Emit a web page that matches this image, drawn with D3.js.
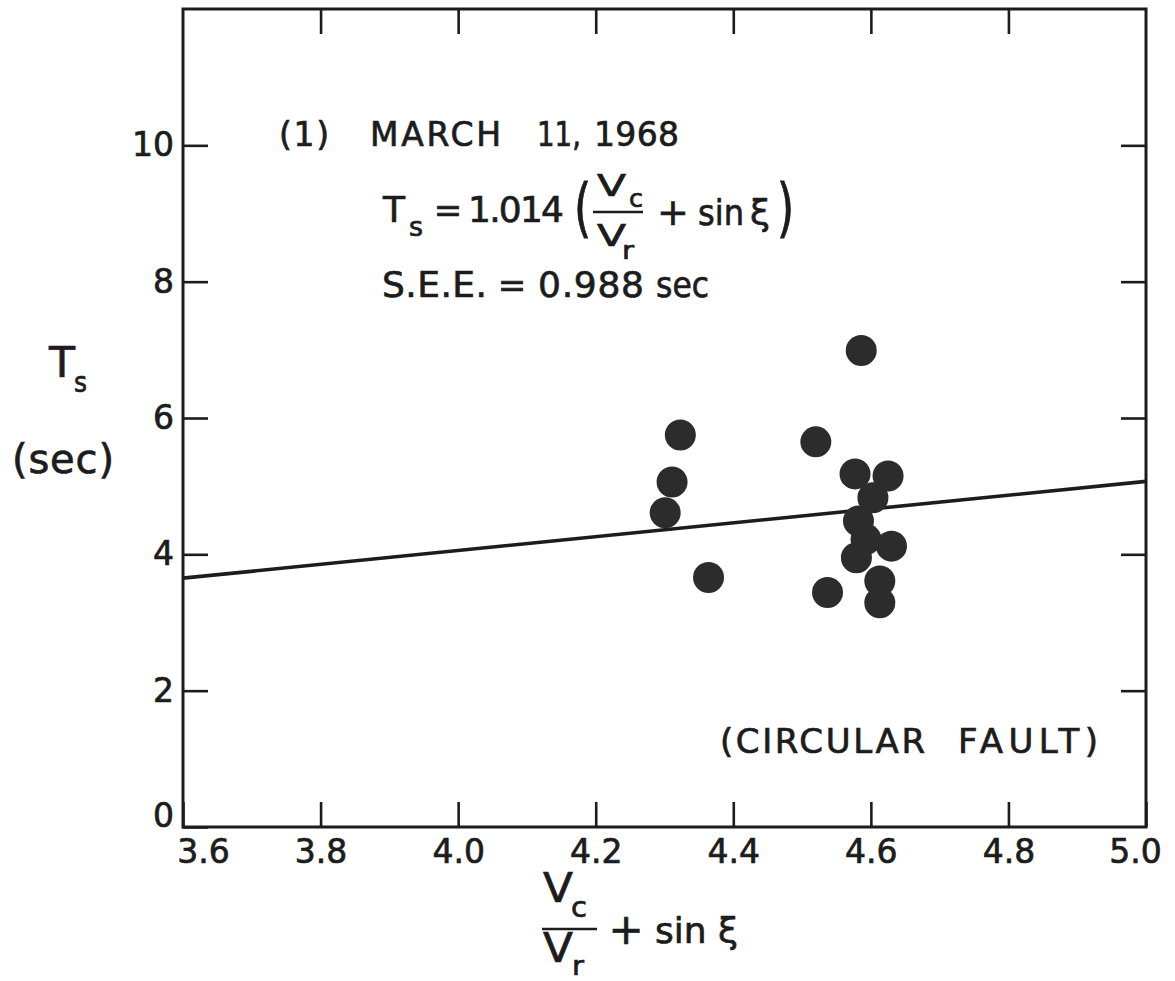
<!DOCTYPE html>
<html>
<head>
<meta charset="utf-8">
<script src="https://cdn.jsdelivr.net/npm/d3@7"></script>
<style>
  html, body { margin: 0; padding: 0; background: #fff; }
  svg { display: block; }
  text { font-family: "DejaVu Sans", "Noto Sans", sans-serif; fill: #1c1c1c;
         stroke: #1c1c1c; stroke-width: 0.7px; }
</style>
</head>
<body>
<svg id="chart" width="1175" height="981"></svg>
<script>
// Observed values: abscissa Vc/Vr + sin(xi), ordinate Ts (sec)
const xValues = [4.586, 4.323, 4.520, 4.311, 4.577, 4.625, 4.603, 4.301,
                 4.582, 4.593, 4.630, 4.579, 4.364, 4.537, 4.613, 4.613];
const tsValues = [6.99, 5.75, 5.65, 5.06, 5.18, 5.15, 4.83, 4.61,
                  4.49, 4.22, 4.12, 3.95, 3.66, 3.44, 3.61, 3.29];

// Fitted relation Ts = 1.014 (Vc/Vr + sin xi)
const fitCoefficient = 1.014;
const fitRange = [3.6, 5.0];

// Axis ticks
const xTicks = [3.6, 3.8, 4.0, 4.2, 4.4, 4.6, 4.8, 5.0];
const xTickLabels = ["3.6", "3.8", "4.0", "4.2", "4.4", "4.6", "4.8", "5.0"];
const yTicks = [0, 2, 4, 6, 8, 10];
const yTickLabels = ["0", "2", "4", "6", "8", "10"];

const svg = d3.select("#chart");
const ink = "#1c1c1c";

const x = d3.scaleLinear().domain([3.6, 5.0]).range([183, 1146]);
const y = d3.scaleLinear().domain([0, 12]).range([827, 9]);

const tickLen = 25;

// Frame
svg.append("rect")
  .attr("x", x(3.6)).attr("y", y(12))
  .attr("width", x(5.0) - x(3.6)).attr("height", y(0) - y(12))
  .attr("fill", "none").attr("stroke", ink).attr("stroke-width", 3);

function styleAxis(g) {
  g.select(".domain").remove();
  g.selectAll(".tick line").attr("stroke", ink).attr("stroke-width", 2.6);
  g.selectAll(".tick text").attr("fill", ink).attr("font-size", 33)
    .attr("font-family", '"DejaVu Sans", sans-serif');
}

// Bottom axis with labels, ticks pointing inward
const xAxisG = svg.append("g")
  .attr("transform", `translate(0,${y(0)})`)
  .call(d3.axisBottom(x).tickValues(xTicks)
    .tickFormat((d, i) => xTickLabels[i])
    .tickSizeInner(-tickLen).tickSizeOuter(0).tickPadding(13))
  .call(styleAxis);
// end labels sit inside the frame corners
xAxisG.selectAll(".tick text")
  .attr("dx", d => d === 3.6 ? 20 : d === 5.0 ? -11 : 0);

// Top axis, ticks only
svg.append("g")
  .attr("transform", `translate(0,${y(12)})`)
  .call(d3.axisTop(x).tickValues(xTicks.slice(1, -1))
    .tickFormat("").tickSizeInner(-tickLen).tickSizeOuter(0))
  .call(styleAxis);

// Left axis with labels
const yAxisG = svg.append("g")
  .attr("transform", `translate(${x(3.6)},0)`)
  .call(d3.axisLeft(y).tickValues(yTicks)
    .tickFormat((d, i) => yTickLabels[i])
    .tickSizeInner(-tickLen).tickSizeOuter(0).tickPadding(9))
  .call(styleAxis);
yAxisG.selectAll(".tick text")
  .attr("y", d => d === 0 ? -11 : 0);

// Right axis, ticks only
svg.append("g")
  .attr("transform", `translate(${x(5.0)},0)`)
  .call(d3.axisRight(y).tickValues(yTicks.slice(1))
    .tickFormat("").tickSizeInner(-tickLen).tickSizeOuter(0))
  .call(styleAxis);

// Regression line
const line = d3.line().x(d => x(d)).y(d => y(fitCoefficient * d));
svg.append("path")
  .datum(fitRange)
  .attr("d", line)
  .attr("fill", "none").attr("stroke", ink).attr("stroke-width", 3.6);

// Data points
svg.append("g").selectAll("circle")
  .data(d3.zip(xValues, tsValues))
  .join("circle")
  .attr("cx", d => x(d[0]))
  .attr("cy", d => y(d[1]))
  .attr("r", 15.5)
  .attr("fill", "#2c2c2c");

// Text helper
function label(str, px, py, size, opts = {}) {
  const t = svg.append("text")
    .attr("x", px).attr("y", py)
    .attr("font-size", size)
    .text(str);
  if (opts.anchor) t.attr("text-anchor", opts.anchor);
  if (opts.len) t.attr("textLength", opts.len)
    .attr("lengthAdjust", opts.glyphs ? "spacingAndGlyphs" : "spacing");
  return t;
}

// Tall thin bracket drawn as stretched text
function bracket(str, px, py, size, sy) {
  return svg.append("text")
    .attr("transform", `translate(${px},${py}) scale(1,${sy})`)
    .attr("font-size", size)
    .text(str);
}

// Title block
label("(1)", 279, 146, 33, { len: 50 });
label("MARCH", 370, 146, 33, { len: 131 });
label("11,", 537, 146, 33, { len: 44, glyphs: true });
label("1968", 594, 146, 33, { len: 85 });

// Fitted equation
label("T", 383, 222, 36, { len: 22, glyphs: true });
label("s", 409, 236, 26, { len: 14, glyphs: true });
label("=", 448, 222, 34, { anchor: "middle" });
label("1.014", 468, 222, 36, { len: 96 });
bracket("(", 574, 230, 44, 1.45);
label("V", 597, 196, 31, { len: 29, glyphs: true });
label("c", 629, 207, 24, { len: 14, glyphs: true });
svg.append("line").attr("x1", 593).attr("x2", 643).attr("y1", 212).attr("y2", 212)
  .attr("stroke", ink).attr("stroke-width", 2.6);
label("V", 597, 246, 31, { len: 29, glyphs: true });
label("r", 622, 259, 24, { len: 12, glyphs: true });
label("+", 673, 225, 38, { anchor: "middle" });
label("sin", 698, 225, 36, { len: 46, glyphs: true });
label("ξ", 750, 225, 36);
bracket(")", 777, 230, 44, 1.45);

label("S.E.E.", 382, 297, 36, { len: 105 });
label("=", 512, 297, 34, { anchor: "middle" });
label("0.988", 538, 297, 36, { len: 106 });
label("sec", 656, 297, 36, { len: 53, glyphs: true });

// Fault model note
label("(CIRCULAR", 720, 753, 34, { len: 205 });
label("FAULT)", 958, 753, 34, { len: 140 });

// Y-axis title
label("T", 49, 377, 42, { len: 26, glyphs: true });
label("s", 74, 392, 28, { len: 13, glyphs: true });
label("(sec)", 12, 473, 40, { len: 102 });

// X-axis title: Vc/Vr + sin xi
label("V", 543, 902, 40, { len: 30, glyphs: true });
label("c", 571, 917, 28, { len: 16, glyphs: true });
svg.append("line").attr("x1", 542).attr("x2", 597).attr("y1", 929).attr("y2", 929)
  .attr("stroke", ink).attr("stroke-width", 2.6);
label("V", 543, 962, 40, { len: 30, glyphs: true });
label("r", 572, 975, 26, { len: 12, glyphs: true });
label("+", 626, 944, 42, { anchor: "middle" });
label("sin", 655, 943, 36);
label("ξ", 718, 943, 36);
</script>
</body>
</html>
